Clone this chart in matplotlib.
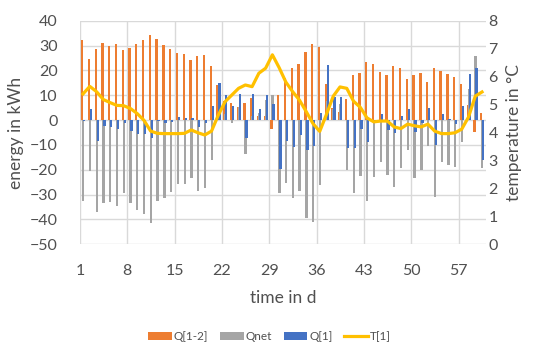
import matplotlib
matplotlib.use("Agg")
import matplotlib.pyplot as plt
import numpy as np


days = list(range(1, 61))
tick_days = [1, 8, 15, 22, 29, 36, 43, 50, 57]

# Q[1-2]
q12 = [32.2, 24.7, 28.7, 31.0, 30.0, 30.6, 28.2, 29.0, 30.6, 32.2,
       34.2, 32.5, 30.2, 28.7, 27.2, 26.6, 24.2, 25.6, 26.0, 21.9,
       14.1, 7.5, 6.8, 5.1, 6.8, 8.9, 1.7, 1.7, -3.4, 9.9,
       16.8, 20.9, 22.4, 27.5, 30.5, 29.3, 14.5, 4.8, 3.1, 8.6,
       18.3, 18.9, 23.5, 22.7, 19.2, 18.3, 21.9, 20.8, 16.5, 18.0,
       18.8, 15.2, 20.8, 19.6, 18.5, 17.3, 14.5, 6.0, -5.0, 2.8]

# Qnet
qnet = [-32.5, -20.3, -36.9, -33.3, -32.9, -34.5, -29.3, -33.2, -36.1, -37.7,
        -41.6, -32.5, -31.3, -28.9, -25.9, -25.9, -23.4, -28.5, -27.2, -16.1,
        0.8, 2.4, -1.0, 5.4, -13.8, 1.6, 2.7, 8.2, 9.9, -29.5,
        -25.5, -31.5, -28.5, -39.6, -40.9, -26.0, 7.6, 4.6, 6.3, -20.1,
        -29.5, -22.4, -32.6, -23.0, -16.8, -22.1, -27.1, -19.1, -12.0, -23.2,
        -19.9, -10.3, -30.9, -17.0, -18.1, -18.8, -9.0, 12.5, 25.9, -19.1]

# Q[1]
q1 = [-0.3, 4.4, -8.5, -2.4, -2.8, -3.5, -1.3, -4.2, -5.5, -5.5,
      -7.4, -0.4, -1.0, -0.7, 1.3, 0.7, 0.7, -2.7, -1.0, 5.8,
      14.9, 9.9, 5.8, 10.5, -7.1, 10.5, 4.4, 9.9, 6.3, -19.5,
      -8.3, -10.7, -6.0, -12.2, -10.3, 3.0, 22.1, 9.4, 9.4, -11.4,
      -11.1, -3.4, -9.0, -0.4, 2.4, -3.8, -5.1, 1.6, 4.4, -5.0,
      -1.0, 4.8, -10.1, 2.6, 0.4, -1.6, 5.8, 18.5, 21.1, -16.1]

# T[1]
t1 = [5.38, 5.65, 5.46, 5.18, 5.07, 4.97, 4.96, 4.86, 4.68, 4.44,
      4.05, 3.97, 3.96, 3.96, 3.96, 3.97, 4.09, 3.99, 3.91, 4.05,
      4.62, 5.10, 5.34, 5.58, 5.70, 5.64, 6.12, 6.30, 6.78, 6.32,
      5.80, 5.46, 5.16, 4.75, 4.32, 4.04, 4.65, 5.30, 5.63, 5.58,
      5.12, 4.90, 4.52, 4.38, 4.41, 4.41, 4.20, 4.14, 4.30, 4.24,
      4.20, 4.30, 4.05, 3.96, 3.96, 3.99, 4.12, 4.55, 5.30, 5.45]


def main():
    plt.rcParams["font.family"] = ["Lato", "DejaVu Sans"]
    text_color = "#505050"
    grid_color = "#d9d9d9"

    fig = plt.figure(figsize=(5.39, 3.45), dpi=100)
    ax = fig.add_axes([0.1484, 0.2919, 0.9012 - 0.1484, 0.94 - 0.2919])
    ax2 = ax.twinx()

    x = np.array(days)
    w = 0.34
    ax.bar(x + 0.33, q12, width=w, color="#ed7d31", label="Q[1-2]", zorder=3)
    ax.bar(x + 0.48, qnet, width=w, color="#a5a5a5", label="Qnet", zorder=4)
    ax.bar(x + 0.63, q1, width=w, color="#4472c4", label="Q[1]", zorder=5)
    ax2.plot(x + 0.45, t1, color="#ffc000", lw=2.3, label="T[1]",
             solid_joinstyle="round")

    ax.set_xlim(1, 61)
    ax.set_ylim(-50, 40)
    ax2.set_ylim(0, 8)
    ax.set_yticks(range(-50, 41, 10))
    ax2.set_yticks(range(0, 9))
    ax.set_xticks(tick_days)
    ax.set_xticklabels([str(d) for d in tick_days])

    ax.grid(True, color=grid_color, lw=1.0, zorder=0)
    ax.set_axisbelow(True)
    for a in (ax, ax2):
        for s in a.spines.values():
            s.set_visible(False)
    ax.tick_params(axis="both", length=0, labelsize=11.5, colors=text_color)
    ax.tick_params(axis="y", pad=16)
    ax.tick_params(axis="x", pad=14)
    ax2.tick_params(axis="y", length=0, labelsize=11.5, colors=text_color, pad=2)

    ax.set_xlabel("time in d", fontsize=12.5, color=text_color, labelpad=9)
    ax.set_ylabel("energy in kWh", fontsize=12.5, color=text_color, labelpad=4)
    ax2.set_ylabel("temperature in °C", fontsize=12.5, color=text_color, labelpad=6)

    h1, l1 = ax.get_legend_handles_labels()
    h2, l2 = ax2.get_legend_handles_labels()
    fig.legend(h1 + h2, l1 + l2, loc="center", bbox_to_anchor=(0.5, 0.024),
               ncol=4, frameon=False, fontsize=8.5, handlelength=2.0,
               handleheight=0.6, columnspacing=1.0, handletextpad=0.15,
               labelcolor=text_color)

    fig.savefig("out.png", dpi=100)
    plt.close(fig)


if __name__ == "__main__":
    main()
